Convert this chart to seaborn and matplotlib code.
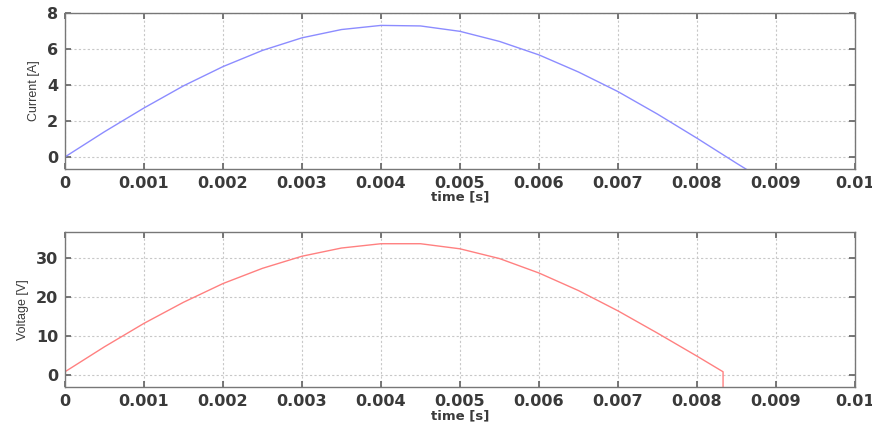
import numpy as np
import pandas as pd
import matplotlib
matplotlib.use("Agg")
import matplotlib.pyplot as plt
import seaborn as sns

t_current = [0.0, 0.0005, 0.001, 0.0015, 0.002, 0.0025, 0.003, 0.0035, 0.004, 0.0045,
             0.005, 0.0055, 0.006, 0.0065, 0.007, 0.0075, 0.008, 0.0085, 0.009]
current = [0.0, 1.4, 2.72, 3.95, 5.02, 5.92, 6.62, 7.08, 7.31, 7.28,
           6.98, 6.42, 5.67, 4.72, 3.63, 2.38, 1.04, -0.35, -1.7]

t_voltage = [0.0, 0.0005, 0.001, 0.0015, 0.002, 0.0025, 0.003, 0.0035, 0.004, 0.0045,
             0.005, 0.0055, 0.006, 0.0065, 0.007, 0.0075, 0.008, 0.00833, 0.00833]
voltage = [0.8, 7.2, 13.2, 18.6, 23.4, 27.3, 30.4, 32.5, 33.6, 33.6,
           32.3, 29.8, 26.1, 21.6, 16.4, 10.7, 4.8, 0.8, -10.0]

x_ticks = [0, 0.001, 0.002, 0.003, 0.004, 0.005, 0.006, 0.007, 0.008, 0.009, 0.01]
x_labels = ["0", "0.001", "0.002", "0.003", "0.004", "0.005", "0.006", "0.007", "0.008", "0.009", "0.01"]
cur_ticks = [0, 2, 4, 6, 8]
volt_ticks = [0, 10, 20, 30]

sns.set_theme(style="white")
plt.rcParams['font.family'] = ['DejaVu Sans']

fig = plt.figure(figsize=(8.72, 4.23), dpi=100)
ax1 = fig.add_axes([0.0745, 0.6005, 0.906, 0.3688])
ax2 = fig.add_axes([0.0745, 0.0851, 0.906, 0.3664])

df_c = pd.DataFrame({"t": t_current, "v": current})
df_v = pd.DataFrame({"t": t_voltage, "v": voltage})

sns.lineplot(data=df_c, x="t", y="v", ax=ax1, color="#8c8cff", linewidth=1.0,
             sort=False, estimator=None)
sns.lineplot(data=df_v, x="t", y="v", ax=ax2, color="#ff8080", linewidth=1.0,
             sort=False, estimator=None)

for ax, yt, ylim, ylab in [(ax1, cur_ticks, (-0.67, 8), "Current [A]"),
                           (ax2, volt_ticks, (-3.1, 36.6), "Voltage [V]")]:
    ax.set_xlim(0, 0.01)
    ax.set_ylim(*ylim)
    ax.set_xticks(x_ticks)
    ax.set_xticklabels(x_labels)
    ax.set_yticks(yt)
    ax.grid(True, color="#c8c8c8", linestyle=(0, (2, 2)), linewidth=0.8)
    ax.tick_params(direction="in", length=4, color="#666666", labelsize=11.5,
                   top=True, right=True, bottom=True, left=True, pad=5)
    for lab in ax.get_xticklabels() + ax.get_yticklabels():
        lab.set_fontweight("bold")
        lab.set_color("#3a3a3a")
    for s in ax.spines.values():
        s.set_color("#777777")
        s.set_linewidth(1.0)
        s.set_visible(True)
    ax.set_xlabel("time [s]", fontsize=9.5, fontweight="bold", color="#3a3a3a", labelpad=0)
    ax.set_ylabel(ylab, fontsize=9, color="#3a3a3a", labelpad=5,
                  family=['Liberation Sans', 'DejaVu Sans'])

fig.savefig("out.png", dpi=100)
